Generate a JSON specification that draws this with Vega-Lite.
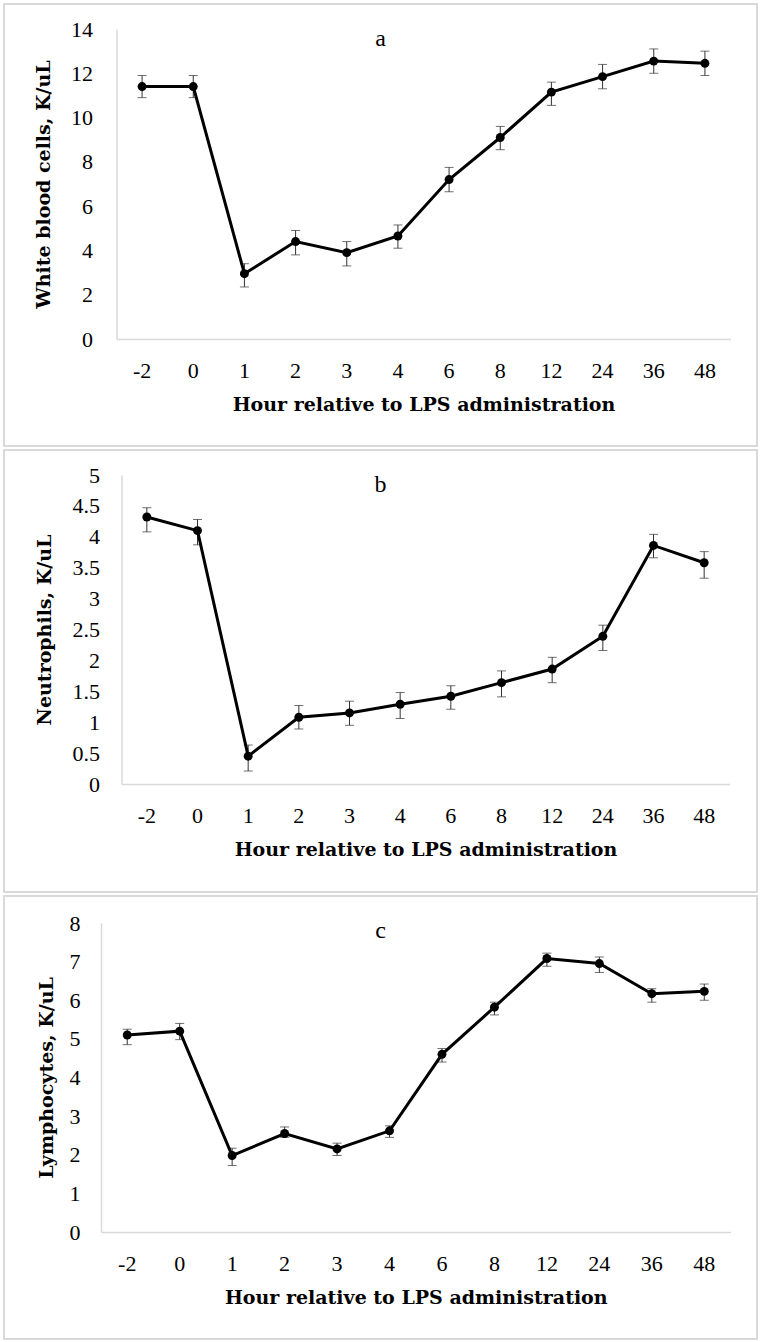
{
  "$schema": "https://vega.github.io/schema/vega-lite/v6.json",
  "background": "white",
  "padding": {"left": 3, "top": 3, "right": 0, "bottom": 0},
  "spacing": 2,
  "datasets": {
    "a": [
      {"hour": -2, "mean": 11.4, "lo": 10.9, "hi": 11.9},
      {"hour": 0, "mean": 11.4, "lo": 10.9, "hi": 11.9},
      {"hour": 1, "mean": 2.95, "lo": 2.35, "hi": 3.4},
      {"hour": 2, "mean": 4.4, "lo": 3.8, "hi": 4.9},
      {"hour": 3, "mean": 3.9, "lo": 3.3, "hi": 4.4},
      {"hour": 4, "mean": 4.65, "lo": 4.1, "hi": 5.15},
      {"hour": 6, "mean": 7.2, "lo": 6.65, "hi": 7.75},
      {"hour": 8, "mean": 9.1, "lo": 8.55, "hi": 9.6},
      {"hour": 12, "mean": 11.15, "lo": 10.55, "hi": 11.6},
      {"hour": 24, "mean": 11.85, "lo": 11.3, "hi": 12.4},
      {"hour": 36, "mean": 12.55, "lo": 12.0, "hi": 13.1},
      {"hour": 48, "mean": 12.45, "lo": 11.9, "hi": 13.0}
    ],
    "b": [
      {"hour": -2, "mean": 4.32, "lo": 4.08, "hi": 4.47},
      {"hour": 0, "mean": 4.1, "lo": 3.87, "hi": 4.28},
      {"hour": 1, "mean": 0.45, "lo": 0.21, "hi": 0.63},
      {"hour": 2, "mean": 1.08, "lo": 0.89, "hi": 1.27},
      {"hour": 3, "mean": 1.15, "lo": 0.95, "hi": 1.34},
      {"hour": 4, "mean": 1.29, "lo": 1.06, "hi": 1.48},
      {"hour": 6, "mean": 1.42, "lo": 1.21, "hi": 1.59},
      {"hour": 8, "mean": 1.64, "lo": 1.41, "hi": 1.83},
      {"hour": 12, "mean": 1.86, "lo": 1.64, "hi": 2.05},
      {"hour": 24, "mean": 2.39, "lo": 2.16, "hi": 2.57},
      {"hour": 36, "mean": 3.86, "lo": 3.66, "hi": 4.04},
      {"hour": 48, "mean": 3.58, "lo": 3.33, "hi": 3.76}
    ],
    "c": [
      {"hour": -2, "mean": 5.1, "lo": 4.85, "hi": 5.25},
      {"hour": 0, "mean": 5.2, "lo": 4.98, "hi": 5.4},
      {"hour": 1, "mean": 1.98, "lo": 1.72, "hi": 2.17},
      {"hour": 2, "mean": 2.55, "lo": 2.45, "hi": 2.72},
      {"hour": 3, "mean": 2.15, "lo": 1.98, "hi": 2.3},
      {"hour": 4, "mean": 2.62, "lo": 2.45, "hi": 2.75},
      {"hour": 6, "mean": 4.6, "lo": 4.4, "hi": 4.75},
      {"hour": 8, "mean": 5.82, "lo": 5.62, "hi": 5.95},
      {"hour": 12, "mean": 7.08, "lo": 6.88, "hi": 7.22},
      {"hour": 24, "mean": 6.95, "lo": 6.72, "hi": 7.12},
      {"hour": 36, "mean": 6.17, "lo": 5.95, "hi": 6.3},
      {"hour": 48, "mean": 6.23, "lo": 6.0, "hi": 6.42}
    ]
  },
  "vconcat": [
    {
      "width": 753, "height": 442,
      "title": {"text": "a"},
      "data": {"name": "a"},
      "encoding": {
        "x": {"field": "hour", "type": "ordinal", "scale": {"range": [112.5, 726.5]},
              "axis": {"offset": -107, "title": "Hour relative to LPS administration"}}
      },
      "layer": [
        {"mark": {"type": "errorbar", "color": "#333", "ticks": {"size": 9, "color": "#333"}},
         "encoding": {"y": {"field": "lo", "type": "quantitative", "title": "White blood cells, K/uL",
                            "scale": {"domain": [0, 14], "range": [335, 25], "nice": false},
                            "axis": {"offset": -112.5, "values": [0, 2, 4, 6, 8, 10, 12, 14], "labelPadding": 24, "titlePadding": 17}},
                      "y2": {"field": "hi"}}},
        {"mark": {"type": "line", "color": "#000", "strokeWidth": 3},
         "encoding": {"y": {"field": "mean", "type": "quantitative", "title": "White blood cells, K/uL",
                            "scale": {"domain": [0, 14], "range": [335, 25], "nice": false},
                            "axis": {"offset": -112.5, "values": [0, 2, 4, 6, 8, 10, 12, 14], "labelPadding": 24, "titlePadding": 17}}}},
        {"mark": {"type": "point", "filled": true, "color": "#000", "size": 80, "opacity": 1},
         "encoding": {"y": {"field": "mean", "type": "quantitative", "title": "White blood cells, K/uL",
                            "scale": {"domain": [0, 14], "range": [335, 25], "nice": false},
                            "axis": {"offset": -112.5, "values": [0, 2, 4, 6, 8, 10, 12, 14], "labelPadding": 24, "titlePadding": 17}}}}
      ]
    },
    {
      "width": 753, "height": 442,
      "title": {"text": "b"},
      "data": {"name": "b"},
      "encoding": {
        "x": {"field": "hour", "type": "ordinal", "scale": {"range": [117.5, 725.5]},
              "axis": {"offset": -108, "title": "Hour relative to LPS administration"}}
      },
      "layer": [
        {"mark": {"type": "errorbar", "color": "#333", "ticks": {"size": 9, "color": "#333"}},
         "encoding": {"y": {"field": "lo", "type": "quantitative", "title": "Neutrophils, K/uL",
                            "scale": {"domain": [0, 5], "range": [334, 25], "nice": false},
                            "axis": {"offset": -117.5, "values": [0, 0.5, 1, 1.5, 2, 2.5, 3, 3.5, 4, 4.5, 5], "format": "~g", "labelPadding": 22, "titlePadding": 18}},
                      "y2": {"field": "hi"}}},
        {"mark": {"type": "line", "color": "#000", "strokeWidth": 3},
         "encoding": {"y": {"field": "mean", "type": "quantitative", "title": "Neutrophils, K/uL",
                            "scale": {"domain": [0, 5], "range": [334, 25], "nice": false},
                            "axis": {"offset": -117.5, "values": [0, 0.5, 1, 1.5, 2, 2.5, 3, 3.5, 4, 4.5, 5], "format": "~g", "labelPadding": 22, "titlePadding": 18}}}},
        {"mark": {"type": "point", "filled": true, "color": "#000", "size": 80, "opacity": 1},
         "encoding": {"y": {"field": "mean", "type": "quantitative", "title": "Neutrophils, K/uL",
                            "scale": {"domain": [0, 5], "range": [334, 25], "nice": false},
                            "axis": {"offset": -117.5, "values": [0, 0.5, 1, 1.5, 2, 2.5, 3, 3.5, 4, 4.5, 5], "format": "~g", "labelPadding": 22, "titlePadding": 18}}}}
      ]
    },
    {
      "width": 753, "height": 443,
      "title": {"text": "c"},
      "data": {"name": "c"},
      "encoding": {
        "x": {"field": "hour", "type": "ordinal", "scale": {"range": [97, 726.5]},
              "axis": {"offset": -107, "title": "Hour relative to LPS administration"}}
      },
      "layer": [
        {"mark": {"type": "errorbar", "color": "#333", "ticks": {"size": 9, "color": "#333"}},
         "encoding": {"y": {"field": "lo", "type": "quantitative", "title": "Lymphocytes, K/uL",
                            "scale": {"domain": [0, 8], "range": [336, 27], "nice": false},
                            "axis": {"offset": -97, "values": [0, 1, 2, 3, 4, 5, 6, 7, 8], "labelPadding": 21, "titlePadding": 13}},
                      "y2": {"field": "hi"}}},
        {"mark": {"type": "line", "color": "#000", "strokeWidth": 3},
         "encoding": {"y": {"field": "mean", "type": "quantitative", "title": "Lymphocytes, K/uL",
                            "scale": {"domain": [0, 8], "range": [336, 27], "nice": false},
                            "axis": {"offset": -97, "values": [0, 1, 2, 3, 4, 5, 6, 7, 8], "labelPadding": 21, "titlePadding": 13}}}},
        {"mark": {"type": "point", "filled": true, "color": "#000", "size": 80, "opacity": 1},
         "encoding": {"y": {"field": "mean", "type": "quantitative", "title": "Lymphocytes, K/uL",
                            "scale": {"domain": [0, 8], "range": [336, 27], "nice": false},
                            "axis": {"offset": -97, "values": [0, 1, 2, 3, 4, 5, 6, 7, 8], "labelPadding": 21, "titlePadding": 13}}}}
      ]
    }
  ],
  "config": {
    "font": "Liberation Serif",
    "view": {"stroke": "#d9d9d9", "strokeWidth": 2},
    "title": {"font": "Liberation Serif", "fontSize": 24, "fontWeight": "normal", "color": "#000", "anchor": "middle", "frame": "group", "baseline": "top", "offset": -47},
    "axis": {"ticks": false, "grid": false, "domainColor": "#d9d9d9", "domainWidth": 1.5,
             "labelFont": "Liberation Serif", "labelFontSize": 22, "labelColor": "#000",
             "titleFont": "DejaVu Serif", "titleFontSize": 19, "titleFontWeight": "bold", "titleColor": "#000"},
    "axisX": {"labelAngle": 0, "labelPadding": 21, "titlePadding": 14}
  }
}
